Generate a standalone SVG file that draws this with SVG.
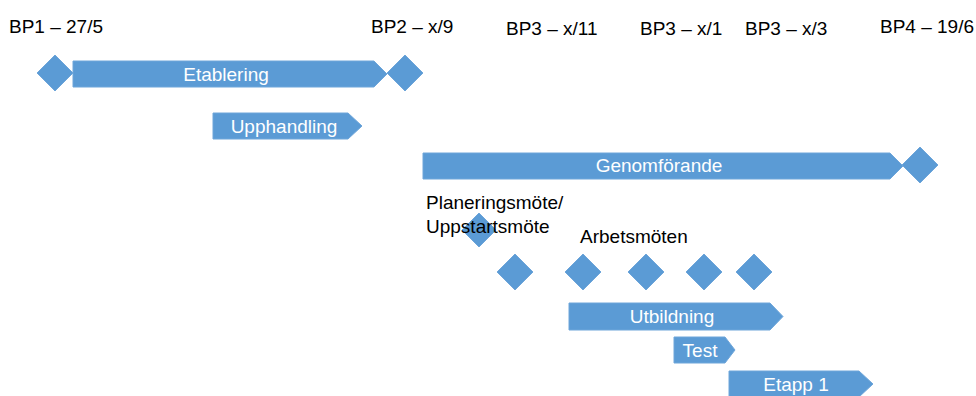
<svg xmlns="http://www.w3.org/2000/svg" width="976" height="396" viewBox="0 0 976 396">
<style>
.s{fill:#5B9BD5;stroke:#6FA6DA;stroke-width:1}
.w{font-family:"Liberation Sans",Arial,sans-serif;font-size:19px;fill:#FFFFFF;text-anchor:middle}
.k{font-family:"Liberation Sans",Arial,sans-serif;font-size:19px;fill:#000000}
</style>
<rect width="976" height="396" fill="#FFFFFF"/>
<g id="labels">
<text class="k" x="9" y="33">BP1 – 27/5</text>
<text class="k" x="371" y="33">BP2 – x/9</text>
<text class="k" x="506" y="35">BP3 – x/11</text>
<text class="k" x="640" y="35">BP3 – x/1</text>
<text class="k" x="745" y="35">BP3 – x/3</text>
<text class="k" x="880" y="33">BP4 – 19/6</text>
</g>
<g id="bp1"><polygon class="s" points="37,73 55,55 73,73 55,91"/></g>
<g id="etablering"><polygon class="s" points="73,61 374,61 387,74 374,87 73,87"/><text class="w" x="226" y="81">Etablering</text></g>
<g id="bp2"><polygon class="s" points="387,73 405,55 423,73 405,91"/></g>
<g id="upphandling"><polygon class="s" points="213,113 348,113 362,126 348,139 213,139"/><text class="w" x="284" y="133">Upphandling</text></g>
<g id="genomforande"><polygon class="s" points="423,153 890,153 903,166 890,179 423,179"/><text class="w" x="659" y="172">Genomförande</text></g>
<g id="bp4"><polygon class="s" points="902,165 920,147 938,165 920,183"/></g>
<g id="planering"><polygon class="s" points="462,230 479,213 496,230 479,247"/>
<text class="k" x="426" y="209">Planeringsmöte/</text>
<text class="k" x="426" y="233">Uppstartsmöte</text></g>
<g id="arbetsmoten"><text class="k" x="580" y="243">Arbetsmöten</text>
<polygon class="s" points="497,272 515,254 533,272 515,290"/>
<polygon class="s" points="565,272 583,254 601,272 583,290"/>
<polygon class="s" points="628,272 646,254 664,272 646,290"/>
<polygon class="s" points="686,272 704,254 722,272 704,290"/>
<polygon class="s" points="736,272 754,254 772,272 754,290"/></g>
<g id="utbildning"><polygon class="s" points="569,303 770,303 783,316.5 770,330 569,330"/><text class="w" x="672" y="323">Utbildning</text></g>
<g id="test"><polygon class="s" points="674,337 725,337 735,350 725,363 674,363"/><text class="w" x="700" y="357">Test</text></g>
<g id="etapp1"><polygon class="s" points="729,371 859,371 873,384 859,397 729,397"/><text class="w" x="796" y="391">Etapp 1</text></g>
<g id="connectors"/>
</svg>
